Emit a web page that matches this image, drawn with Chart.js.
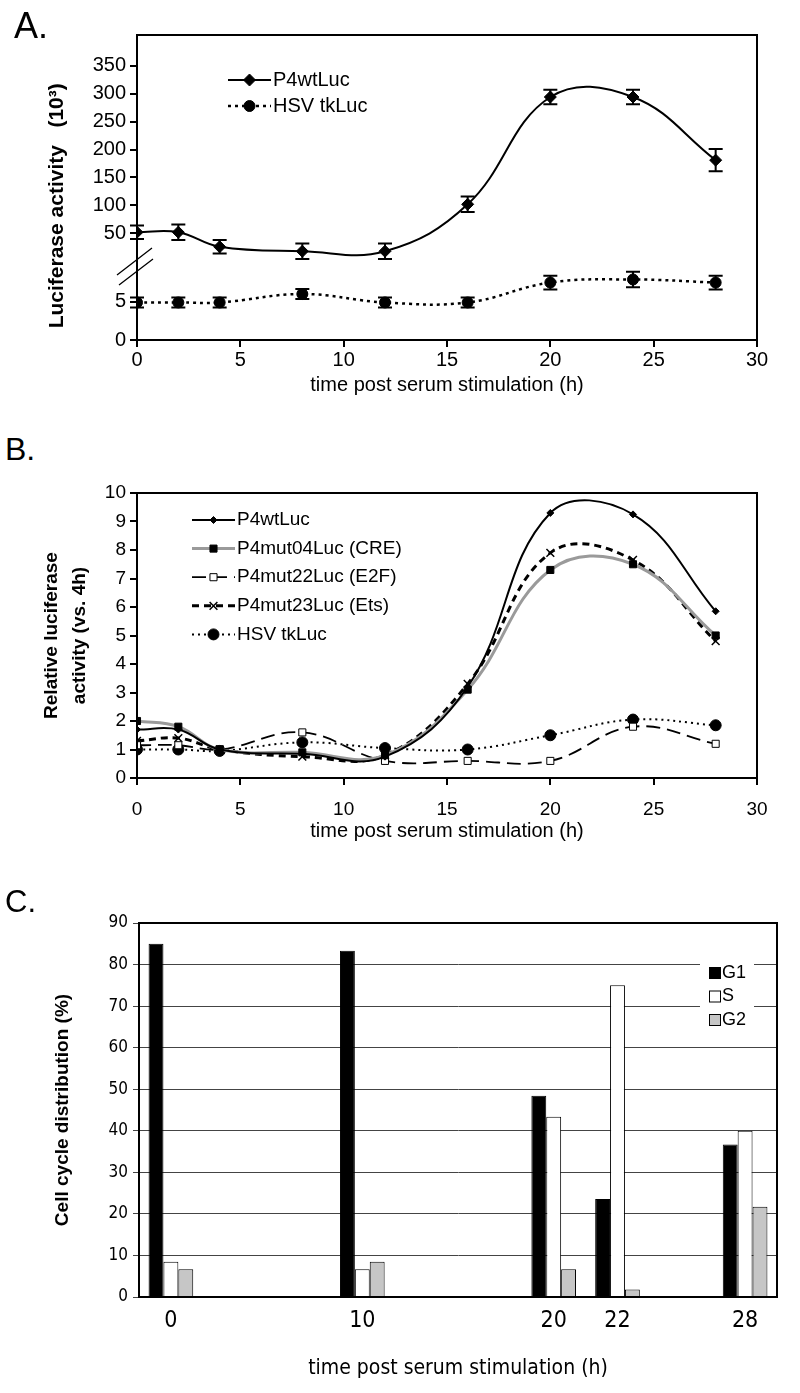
<!DOCTYPE html>
<html>
<head>
<meta charset="utf-8">
<script src="https://cdn.jsdelivr.net/npm/chart.js@4.4.0/dist/chart.umd.min.js"></script>
<style>
  body { margin: 0; background: #fff; width: 800px; height: 1393px; position: relative; overflow: hidden; font-family: 'Liberation Sans', Arial, sans-serif; }
  .panel { position: absolute; left: 0; width: 800px; }
  .tag { position: absolute; line-height: 1; color: #000; }
</style>
</head>
<body>
<div class="panel" style="top:0;height:400px"><canvas id="chartA"></canvas></div>
<div class="panel" style="top:470px;height:375px"><canvas id="chartB"></canvas></div>
<div class="panel" style="top:880px;height:513px"><canvas id="chartC"></canvas></div>
<div class="tag" style="left:14px;top:8px;font-size:36px">A.</div>
<div class="tag" style="left:5px;top:433px;font-size:32px">B.</div>
<div class="tag" style="left:5px;top:886px;font-size:31px">C.</div>
<script>
// panel A: hours and luciferase activity (10^3), with error bars
const timesA = [0, 2, 4, 8, 12, 16, 20, 24, 28]
const wtA = [52, 52, 26, 18, 18, 102, 294, 294, 181]
const wtErrA = [12, 14, 12, 14, 14, 14, 13, 13, 20]
const hsvA = [4.9, 4.9, 4.9, 6.0, 4.9, 4.9, 7.5, 7.9, 7.5]
const hsvErrA = [0.65, 0.65, 0.65, 0.65, 0.65, 0.65, 0.9, 1.0, 0.9]
const lowTicksA = [0, 5]
const highTicksA = [50, 100, 150, 200, 250, 300, 350]

// panel B: relative activity (vs. 4h)
const timesB = [0, 2, 4, 8, 12, 16, 20, 24, 28]
const wtB = [1.7, 1.7, 1.0, 0.85, 0.75, 3.2, 9.3, 9.25, 5.85]
const creB = [2.0, 1.8, 1.0, 0.9, 0.8, 3.1, 7.3, 7.5, 5.0]
const e2fB = [1.15, 1.15, 1.0, 1.6, 0.6, 0.6, 0.6, 1.8, 1.2]
const etsB = [1.3, 1.4, 1.0, 0.75, 0.8, 3.3, 7.9, 7.65, 4.8]
const hsvB = [1.0, 1.0, 0.95, 1.25, 1.05, 1.0, 1.5, 2.05, 1.85]

// panel C: cell cycle distribution (%), blank slots keep Excel's spacing
const hoursC = ['0', '', '', '10', '', '', '20', '22', '', '28']
const g1C = [85, null, null, 83.3, null, null, 48.4, 23.6, null, 36.7]
const sC = [8.5, null, null, 6.7, null, null, 43.4, 75, null, 40]
const g2C = [6.7, null, null, 8.5, null, null, 6.7, 1.8, null, 21.7]

const sans = "'Liberation Sans', Arial, sans-serif"
const narrow = "'Liberation Sans Narrow', 'DejaVu Sans Condensed', 'Liberation Sans', sans-serif"
Chart.defaults.font.family = sans
Chart.defaults.color = '#000'
Chart.defaults.animation = false

const pts = (xs, ys) => xs.map((x, i) => ({ x: x, y: ys[i] }))

// box round the plot area
const frame = {
  id: 'frame',
  afterDatasetsDraw(chart) {
    const { ctx, chartArea: a } = chart
    ctx.save()
    ctx.strokeStyle = '#000'
    ctx.lineWidth = 2
    ctx.strokeRect(a.left, a.top, a.right - a.left, a.bottom - a.top)
    ctx.restore()
  }
}

const errorBars = {
  id: 'errorBars',
  afterDatasetsDraw(chart) {
    const ctx = chart.ctx
    ctx.save()
    ctx.strokeStyle = '#000'
    ctx.lineWidth = 2
    chart.data.datasets.forEach((ds, i) => {
      if (!ds.errors) return
      const meta = chart.getDatasetMeta(i)
      const xs = chart.scales[meta.xAxisID]
      const ys = chart.scales[meta.yAxisID]
      ds.data.forEach((p, j) => {
        const x = xs.getPixelForValue(p.x)
        const t = ys.getPixelForValue(p.y + ds.errors[j])
        const b = ys.getPixelForValue(p.y - ds.errors[j])
        ctx.beginPath()
        ctx.moveTo(x, t); ctx.lineTo(x, b)
        ctx.moveTo(x - 7, t); ctx.lineTo(x + 7, t)
        ctx.moveTo(x - 7, b); ctx.lineTo(x + 7, b)
        ctx.stroke()
      })
    })
    ctx.restore()
  }
}

// the // marks where the left axis of A is broken
const axisBreak = {
  id: 'axisBreak',
  afterDraw(chart) {
    const ctx = chart.ctx
    const L = chart.chartArea.left
    const b = chart.scales.yLow.top
    ctx.save()
    ctx.strokeStyle = '#000'
    ctx.lineWidth = 1.3
    ctx.beginPath()
    ctx.moveTo(L - 20, b + 7); ctx.lineTo(L + 15, b - 20)
    ctx.moveTo(L - 18, b + 17); ctx.lineTo(L + 16, b - 9)
    ctx.stroke()
    ctx.restore()
  }
}

// Excel style legend drawn inside the plot
const sampleLegend = {
  id: 'sampleLegend',
  afterDraw(chart, args, opts) {
    const ctx = chart.ctx
    ctx.save()
    if (opts.box) {
      ctx.fillStyle = '#fff'
      ctx.fillRect(opts.box[0], opts.box[1], opts.box[2], opts.box[3])
    }
    ctx.font = opts.textFont
    ctx.textBaseline = 'middle'
    chart.data.datasets.forEach((ds, i) => {
      const y = opts.y + i * opts.row
      if (opts.kind === 'box') {
        ctx.fillStyle = ds.backgroundColor
        ctx.fillRect(opts.x, y - 6, 12, 12)
        ctx.strokeStyle = '#000'
        ctx.lineWidth = 1
        ctx.strokeRect(opts.x + 0.5, y - 5.5, 11, 11)
        ctx.fillStyle = '#000'
        ctx.fillText(ds.label, opts.x + 13, y)
        return
      }
      ctx.strokeStyle = ds.borderColor
      ctx.lineWidth = ds.borderWidth
      ctx.setLineDash(ds.borderDash || [])
      ctx.beginPath()
      ctx.moveTo(opts.x, y); ctx.lineTo(opts.x + opts.sample, y)
      ctx.stroke()
      ctx.setLineDash([])
      ctx.fillStyle = ds.pointBackgroundColor
      ctx.strokeStyle = ds.pointBorderColor
      ctx.lineWidth = ds.pointBorderWidth
      Chart.helpers.drawPoint(ctx, { pointStyle: ds.pointStyle, radius: ds.pointRadius, borderWidth: ds.pointBorderWidth, rotation: 0 }, opts.x + opts.sample / 2, y)
      ctx.fillStyle = '#000'
      ctx.fillText(ds.label, opts.x + opts.sample + 2, y)
    })
    ctx.restore()
  }
}

const axisLine = { color: '#000', width: 2 }
const tickMarks = { drawOnChartArea: false, tickLength: 7, color: '#000', lineWidth: 2 }

function lineSet(label, data, o) {
  return Object.assign({
    label: label, data: data, borderColor: '#000', borderWidth: 2, fill: false,
    tension: 0.4, pointBackgroundColor: '#000', pointBorderColor: '#000', pointBorderWidth: 1
  }, o)
}

new Chart(document.getElementById('chartA'), {
  type: 'line',
  data: {
    datasets: [
      lineSet('P4wtLuc', pts(timesA, wtA), { yAxisID: 'yHigh', errors: wtErrA, pointStyle: 'rectRot', pointRadius: 6 }),
      lineSet('HSV tkLuc', pts(timesA, hsvA), { yAxisID: 'yLow', errors: hsvErrA, borderDash: [3, 4], borderWidth: 2.5, pointStyle: 'circle', pointRadius: 5.5 })
    ]
  },
  options: {
    responsive: true,
    maintainAspectRatio: false,
    layout: { padding: { top: 35, right: 43, bottom: 3, left: 0 } },
    plugins: {
      legend: { display: false },
      tooltip: { enabled: false },
      sampleLegend: { x: 228, y: 80, row: 26, sample: 43, textFont: '20px ' + sans }
    },
    scales: {
      x: {
        type: 'linear', min: 0, max: 30,
        ticks: { stepSize: 5, padding: 1, font: { size: 20 } },
        grid: tickMarks, border: axisLine,
        title: { display: true, text: 'time post serum stimulation (h)', font: { size: 20 }, padding: 0 },
        afterFit: s => { s.height = 57 }
      },
      yLow: {
        type: 'linear', position: 'left', stack: 'a', stackWeight: 72, min: 0, max: 9.4,
        afterBuildTicks: s => { s.ticks = lowTicksA.map(v => ({ value: v })) },
        ticks: { padding: 4, autoSkip: false, font: { size: 20 } },
        grid: tickMarks, border: axisLine,
        title: { display: true, align: 'start', text: '  Luciferase activity   (10³)', font: { size: 21, weight: 'bold' }, padding: { top: 45, bottom: 0 } },
        afterFit: s => { s.width = 137 }
      },
      yHigh: {
        type: 'linear', position: 'left', stack: 'a', stackWeight: 233, min: -12, max: 405,
        afterBuildTicks: s => { s.ticks = highTicksA.map(v => ({ value: v })) },
        ticks: { padding: 4, autoSkip: false, font: { size: 20 } },
        grid: tickMarks, border: axisLine,
        afterFit: s => { s.width = 137 }
      }
    }
  },
  plugins: [frame, errorBars, axisBreak, sampleLegend]
})

new Chart(document.getElementById('chartB'), {
  type: 'line',
  data: {
    datasets: [
      lineSet('P4wtLuc', pts(timesB, wtB), { pointStyle: 'rectRot', pointRadius: 3.5 }),
      lineSet('P4mut04Luc (CRE)', pts(timesB, creB), { borderColor: '#9a9a9a', borderWidth: 3, pointStyle: 'rect', pointRadius: 5 }),
      lineSet('P4mut22Luc (E2F)', pts(timesB, e2fB), { borderDash: [14, 7], borderWidth: 1.8, pointStyle: 'rect', pointRadius: 5, pointBackgroundColor: '#fff' }),
      lineSet('P4mut23Luc (Ets)', pts(timesB, etsB), { borderDash: [7, 5], borderWidth: 3, pointStyle: 'crossRot', pointRadius: 5.5, pointBorderWidth: 1.5 }),
      lineSet('HSV tkLuc', pts(timesB, hsvB), { borderDash: [2, 4], borderWidth: 2, pointStyle: 'circle', pointRadius: 5.5 })
    ]
  },
  options: {
    responsive: true,
    maintainAspectRatio: false,
    layout: { padding: { top: 23, right: 43, bottom: 2, left: 0 } },
    plugins: {
      legend: { display: false },
      tooltip: { enabled: false },
      sampleLegend: { x: 192, y: 50, row: 28.6, sample: 43, textFont: '19px ' + sans }
    },
    scales: {
      x: {
        type: 'linear', min: 0, max: 30,
        ticks: { stepSize: 5, padding: 13, font: { size: 19 } },
        grid: tickMarks, border: axisLine,
        title: { display: true, text: 'time post serum stimulation (h)', font: { size: 20 }, padding: 0 },
        afterFit: s => { s.height = 65 }
      },
      y: {
        type: 'linear', min: 0, max: 10,
        ticks: { stepSize: 1, padding: 4, font: { size: 19 } },
        grid: tickMarks, border: axisLine,
        title: { display: true, text: ['Relative luciferase', 'activity (vs. 4h)'], font: { size: 19, weight: 'bold', lineHeight: 1.47 }, padding: { top: 38, bottom: 0 } },
        afterFit: s => { s.width = 137 }
      }
    }
  },
  plugins: [frame, sampleLegend]
})

new Chart(document.getElementById('chartC'), {
  type: 'bar',
  data: {
    labels: hoursC,
    datasets: [
      { label: 'G1', data: g1C, backgroundColor: '#000', borderColor: '#000', borderWidth: 1 },
      { label: 'S', data: sC, backgroundColor: '#fff', borderColor: '#000', borderWidth: 1 },
      { label: 'G2', data: g2C, backgroundColor: '#c6c6c6', borderColor: '#000', borderWidth: 1 }
    ]
  },
  options: {
    responsive: true,
    maintainAspectRatio: false,
    categoryPercentage: 0.7,
    barPercentage: 1.0,
    layout: { padding: { top: 43, right: 23, bottom: 12, left: 0 } },
    plugins: {
      legend: { display: false },
      tooltip: { enabled: false },
      sampleLegend: { kind: 'box', x: 709, y: 93, row: 23.5, box: [700, 76, 54, 80], textFont: '18px ' + sans }
    },
    scales: {
      x: {
        type: 'category',
        ticks: { padding: 2, font: { size: 23, family: narrow } },
        grid: { display: false }, border: axisLine,
        title: { display: true, text: 'time post serum stimulation (h)', font: { size: 21, family: narrow }, padding: 0 },
        afterFit: s => { s.height = 84 }
      },
      y: {
        min: 0, max: 90,
        ticks: { stepSize: 10, padding: 5, font: { size: 17, family: narrow } },
        grid: { color: '#444', lineWidth: 1, tickLength: 6 }, border: axisLine,
        title: { display: true, text: 'Cell cycle distribution (%)', font: { size: 19, weight: 'bold' }, padding: { top: 51, bottom: 0 } },
        afterFit: s => { s.width = 139 }
      }
    }
  },
  plugins: [frame, sampleLegend]
})
</script>
</body>
</html>
